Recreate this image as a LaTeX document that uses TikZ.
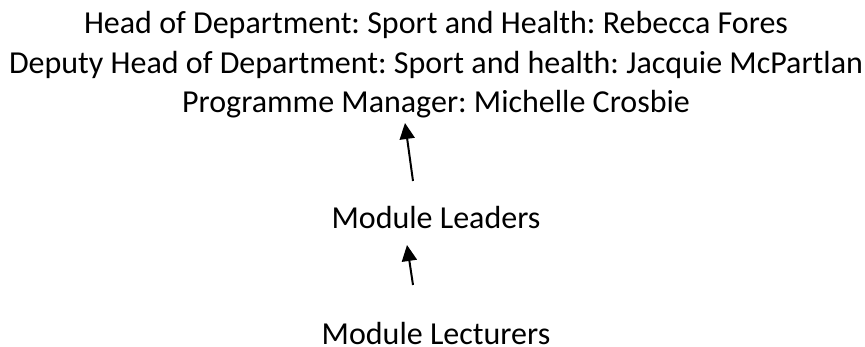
\documentclass[tikz,border=0pt]{standalone}
\usepackage{fontspec}
\setmainfont{Carlito}
\usetikzlibrary{arrows.meta}
\begin{document}
\begin{tikzpicture}[x=1pt,y=-1pt,
  lbl/.style={inner sep=0pt, font=\fontsize{32}{38}\selectfont\frenchspacing, anchor=base},
  arr/.style={line width=2pt, -{Triangle[length=16pt,width=15pt]}}]
\useasboundingbox (0,0) rectangle (865,347);
\node[lbl] (hod) at (436,33.5) {Head of Department: Sport and Health: Rebecca Fores};
\node[lbl] (dep) at (436,73.5) {Deputy Head of Department: Sport and health: Jacquie McPartlan};
\node[lbl] (pm) at (436,113) {Programme Manager: Michelle Crosbie};
\node[lbl] (ml) at (436,229) {Module Leaders};
\node[lbl, text depth=0pt] (lec) at (436,344.5) {Module Lecturers};
\coordinate (a1s) at (413,181);
\coordinate (a1e) at (405,123);
\coordinate (a2s) at (413,285);
\coordinate (a2e) at (407,245);
\draw[arr] (a1s) -- (a1e);
\draw[arr] (a2s) -- (a2e);
\end{tikzpicture}
\end{document}
